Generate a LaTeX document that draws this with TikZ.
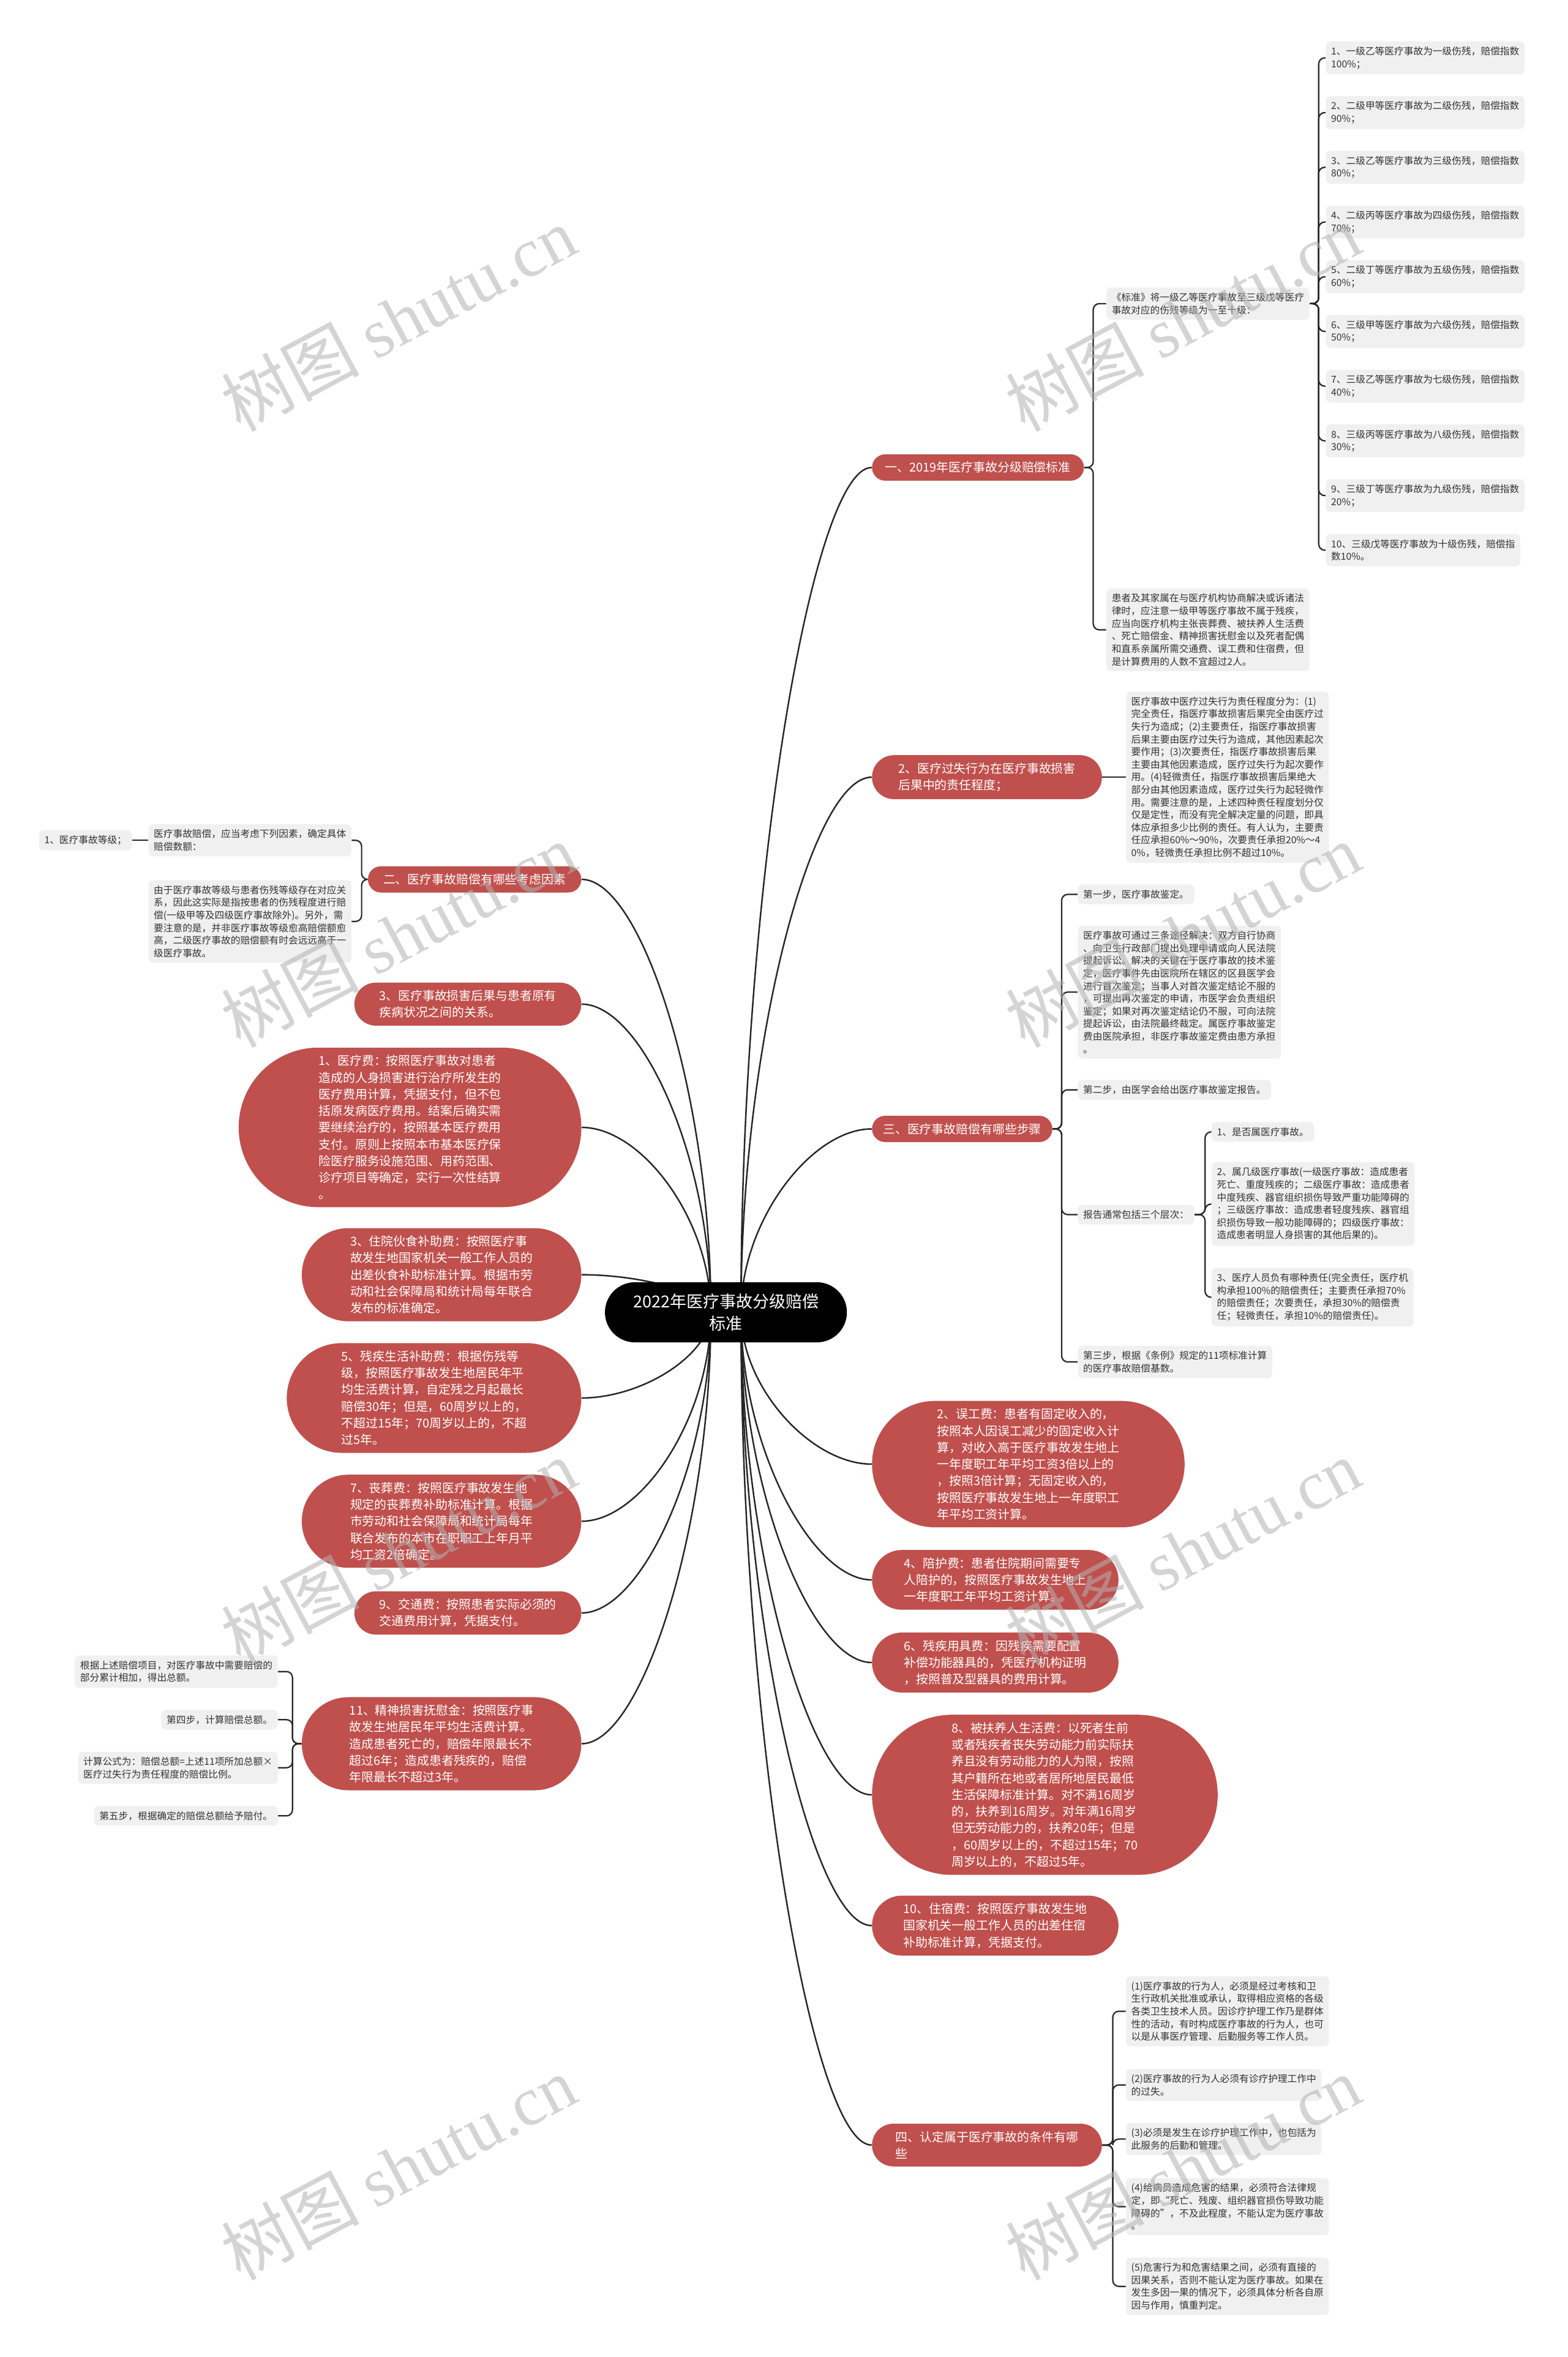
\documentclass[tikz,border=0pt]{standalone}
\usepackage{fontspec}
\setmainfont{Noto Sans CJK SC}
\newfontfamily\wmlatin{Liberation Serif}
\usetikzlibrary{positioning,calc,backgrounds,shapes.misc}
\definecolor{topicred}{RGB}{192,80,77}
\definecolor{leafgray}{RGB}{240,240,240}
\definecolor{leaftext}{RGB}{51,51,51}

\begin{document}
\begin{tikzpicture}[x=1pt, y=-1pt,
  title/.style={rounded rectangle, fill=black, text=white, align=center, font=\fontsize{11}{14.5}\selectfont, inner xsep=3pt, inner ysep=7pt, minimum width=167pt, minimum height=40pt},
  topic/.style={rounded rectangle, fill=topicred, text=white, align=left, font=\fontsize{8.1}{11.1}\selectfont, inner xsep=2pt, inner ysep=5pt, minimum width=#1},
  topic/.default=150pt,
  leaf/.style={fill=leafgray, text=leaftext, rounded corners=3pt, align=left, font=\fontsize{6.4}{8.4}\selectfont, inner sep=3.5pt},
  link/.style={draw=black!85, line width=1pt},
  brace/.style={draw=black!85, line width=0.9pt, rounded corners=4pt},
  wmark/.style={text=black!30, opacity=0.55, rotate=28, font=\fontsize{46}{46}\selectfont}]
  \useasboundingbox (0,0) rectangle (1043,1568);

  % centre
  \node[title] (root) at (483,873) {2022年医疗事故分级赔偿\\标准};
  \coordinate (hubR) at ($(root.center)+(10,0)$);
  \coordinate (hubL) at ($(root.center)+(-10,0)$);

  % right topics
  \node[topic=145pt, anchor=west] (std) at (580,311) {一、2019年医疗事故分级赔偿标准};
  \node[topic=157pt, anchor=west] (resp) at (580,517) {2、医疗过失行为在医疗事故损害\\后果中的责任程度；};
  \node[topic=124pt, anchor=west] (steps) at (580,751) {三、医疗事故赔偿有哪些步骤};
  \node[topic=212pt, anchor=west] (lost) at (580,974) {2、误工费：患者有固定收入的，\\
    按照本人因误工减少的固定收入计\\
    算，对收入高于医疗事故发生地上\\
    一年度职工年平均工资3倍以上的\\
    ，按照3倍计算；无固定收入的，\\
    按照医疗事故发生地上一年度职工\\
    年平均工资计算。};
  \node[topic=168pt, anchor=west] (care) at (580,1051) {4、陪护费：患者住院期间需要专\\
    人陪护的，按照医疗事故发生地上\\
    一年度职工年平均工资计算。};
  \node[topic=168pt, anchor=west] (aids) at (580,1106) {6、残疾用具费：因残疾需要配置\\
    补偿功能器具的，凭医疗机构证明\\
    ，按照普及型器具的费用计算。};
  \node[topic=234pt, anchor=west] (dep) at (580,1194) {8、被扶养人生活费：以死者生前\\
    或者残疾者丧失劳动能力前实际扶\\
    养且没有劳动能力的人为限，按照\\
    其户籍所在地或者居所地居民最低\\
    生活保障标准计算。对不满16周岁\\
    的，扶养到16周岁。对年满16周岁\\
    但无劳动能力的，扶养20年；但是\\
    ，60周岁以上的，不超过15年；70\\
    周岁以上的，不超过5年。};
  \node[topic=168pt, anchor=west] (lodge) at (580,1281) {10、住宿费：按照医疗事故发生地\\
    国家机关一般工作人员的出差住宿\\
    补助标准计算，凭据支付。};
  \node[topic=157pt, anchor=west] (cond) at (580,1427) {四、认定属于医疗事故的条件有哪\\些};

  % left topics
  \node[topic=146pt, anchor=east] (factor) at (387,585) {二、医疗事故赔偿有哪些考虑因素};
  \node[topic=155pt, anchor=east] (prior) at (387,668) {3、医疗事故损害后果与患者原有\\疾病状况之间的关系。};
  \node[topic=232pt, anchor=east] (med) at (387,750) {1、医疗费：按照医疗事故对患者\\
    造成的人身损害进行治疗所发生的\\
    医疗费用计算，凭据支付，但不包\\
    括原发病医疗费用。结案后确实需\\
    要继续治疗的，按照基本医疗费用\\
    支付。原则上按照本市基本医疗保\\
    险医疗服务设施范围、用药范围、\\
    诊疗项目等确定，实行一次性结算\\
    。};
  \node[topic=190pt, anchor=east] (food) at (387,848) {3、住院伙食补助费：按照医疗事\\
    故发生地国家机关一般工作人员的\\
    出差伙食补助标准计算。根据市劳\\
    动和社会保障局和统计局每年联合\\
    发布的标准确定。};
  \node[topic=200pt, anchor=east] (dis) at (387,930) {5、残疾生活补助费：根据伤残等\\
    级，按照医疗事故发生地居民年平\\
    均生活费计算，自定残之月起最长\\
    赔偿30年；但是，60周岁以上的，\\
    不超过15年；70周岁以上的，不超\\
    过5年。};
  \node[topic=190pt, anchor=east] (fun) at (387,1012) {7、丧葬费：按照医疗事故发生地\\
    规定的丧葬费补助标准计算。根据\\
    市劳动和社会保障局和统计局每年\\
    联合发布的本市在职职工上年月平\\
    均工资2倍确定。};
  \node[topic=155pt, anchor=east] (trav) at (387,1073) {9、交通费：按照患者实际必须的\\交通费用计算，凭据支付。};
  \node[topic=190pt, anchor=east] (ment) at (387,1160) {11、精神损害抚慰金：按照医疗事\\
    故发生地居民年平均生活费计算。\\
    造成患者死亡的，赔偿年限最长不\\
    超过6年；造成患者残疾的，赔偿\\
    年限最长不超过3年。};

  % leaves of the 2019 standard
  \node[leaf, anchor=west] (stdA) at (736,202) {《标准》将一级乙等医疗事故至三级戊等医疗\\事故对应的伤残等级为一至十级：};
  \node[leaf, anchor=west] (stdB) at (736,419) {患者及其家属在与医疗机构协商解决或诉诸法\\
    律时，应注意一级甲等医疗事故不属于残疾，\\
    应当向医疗机构主张丧葬费、被扶养人生活费\\
    、死亡赔偿金、精神损害抚慰金以及死者配偶\\
    和直系亲属所需交通费、误工费和住宿费，但\\
    是计算费用的人数不宜超过2人。};
  \foreach \i/\g/\h/\p in {1/一级乙等/一/100, 2/二级甲等/二/90, 3/二级乙等/三/80,
      4/二级丙等/四/70, 5/二级丁等/五/60, 6/三级甲等/六/50, 7/三级乙等/七/40,
      8/三级丙等/八/30, 9/三级丁等/九/20}
    \node[leaf, anchor=west] (g\i) at (882,{38.5+36.4*(\i-1)}) {{\i}、{\g}医疗事故为{\h}级伤残，赔偿指数\\{\p}\%；};
  \node[leaf, anchor=west] (g10) at (882,366) {10、三级戊等医疗事故为十级伤残，赔偿指\\数10\%。};

  % leaf of responsibility
  \node[leaf, anchor=west] (respA) at (749,517) {医疗事故中医疗过失行为责任程度分为：(1)\\
    完全责任，指医疗事故损害后果完全由医疗过\\
    失行为造成；(2)主要责任，指医疗事故损害\\
    后果主要由医疗过失行为造成，其他因素起次\\
    要作用；(3)次要责任，指医疗事故损害后果\\
    主要由其他因素造成，医疗过失行为起次要作\\
    用。(4)轻微责任，指医疗事故损害后果绝大\\
    部分由其他因素造成，医疗过失行为起轻微作\\
    用。需要注意的是，上述四种责任程度划分仅\\
    仅是定性，而没有完全解决定量的问题，即具\\
    体应承担多少比例的责任。有人认为，主要责\\
    任应承担60\%～90\%，次要责任承担20\%～4\\
    0\%，轻微责任承担比例不超过10\%。};

  % leaves of the steps
  \node[leaf, anchor=west] (st1) at (717,595) {第一步，医疗事故鉴定。};
  \node[leaf, anchor=west] (st2) at (717,660) {医疗事故可通过三条途径解决：双方自行协商\\
    、向卫生行政部门提出处理申请或向人民法院\\
    提起诉讼。解决的关键在于医疗事故的技术鉴\\
    定，医疗事件先由医院所在辖区的区县医学会\\
    进行首次鉴定；当事人对首次鉴定结论不服的\\
    ，可提出再次鉴定的申请，市医学会负责组织\\
    鉴定；如果对再次鉴定结论仍不服，可向法院\\
    提起诉讼，由法院最终裁定。属医疗事故鉴定\\
    费由医院承担，非医疗事故鉴定费由患方承担\\
    。};
  \node[leaf, anchor=west] (st3) at (717,725) {第二步，由医学会给出医疗事故鉴定报告。};
  \node[leaf, anchor=west] (st4) at (717,808) {报告通常包括三个层次：};
  \node[leaf, anchor=west] (st5) at (717,906) {第三步，根据《条例》规定的11项标准计算\\的医疗事故赔偿基数。};
  \node[leaf, anchor=west] (r1) at (806,753) {1、是否属医疗事故。};
  \node[leaf, anchor=west] (r2) at (806,801) {2、属几级医疗事故(一级医疗事故：造成患者\\
    死亡、重度残疾的；二级医疗事故：造成患者\\
    中度残疾、器官组织损伤导致严重功能障碍的\\
    ；三级医疗事故：造成患者轻度残疾、器官组\\
    织损伤导致一般功能障碍的；四级医疗事故：\\
    造成患者明显人身损害的其他后果的)。};
  \node[leaf, anchor=west] (r3) at (806,863) {3、医疗人员负有哪种责任(完全责任，医疗机\\
    构承担100\%的赔偿责任；主要责任承担70\%\\
    的赔偿责任；次要责任，承担30\%的赔偿责\\
    任；轻微责任，承担10\%的赔偿责任)。};

  % leaves of the conditions
  \node[leaf, anchor=west] (c1) at (749,1338) {(1)医疗事故的行为人，必须是经过考核和卫\\
    生行政机关批准或承认，取得相应资格的各级\\
    各类卫生技术人员。因诊疗护理工作乃是群体\\
    性的活动，有时构成医疗事故的行为人，也可\\
    以是从事医疗管理、后勤服务等工作人员。};
  \node[leaf, anchor=west] (c2) at (749,1387) {(2)医疗事故的行为人必须有诊疗护理工作中\\的过失。};
  \node[leaf, anchor=west] (c3) at (749,1423) {(3)必须是发生在诊疗护理工作中，也包括为\\此服务的后勤和管理。};
  \node[leaf, anchor=west] (c4) at (749,1468) {(4)给病员造成危害的结果，必须符合法律规\\
    定，即“死亡、残废、组织器官损伤导致功能\\
    障碍的”，不及此程度，不能认定为医疗事故\\
    。};
  \node[leaf, anchor=west] (c5) at (749,1521) {(5)危害行为和危害结果之间，必须有直接的\\
    因果关系，否则不能认定为医疗事故。如果在\\
    发生多因一果的情况下，必须具体分析各自原\\
    因与作用，慎重判定。};

  % left leaves
  \node[leaf, anchor=east] (fa1) at (234,559) {医疗事故赔偿，应当考虑下列因素，确定具体\\赔偿数额：};
  \node[leaf, anchor=east] (fa0) at (88,559) {1、医疗事故等级；};
  \node[leaf, anchor=east] (fa2) at (234,613) {由于医疗事故等级与患者伤残等级存在对应关\\
    系，因此这实际是指按患者的伤残程度进行赔\\
    偿(一级甲等及四级医疗事故除外)。另外，需\\
    要注意的是，并非医疗事故等级愈高赔偿额愈\\
    高，二级医疗事故的赔偿额有时会远远高于一\\
    级医疗事故。};
  \node[leaf, anchor=east] (m1) at (185,1112) {根据上述赔偿项目，对医疗事故中需要赔偿的\\部分累计相加，得出总额。};
  \node[leaf, anchor=east] (m2) at (185,1144) {第四步，计算赔偿总额。};
  \node[leaf, anchor=east] (m3) at (185,1176) {计算公式为：赔偿总额=上述11项所加总额×\\医疗过失行为责任程度的赔偿比例。};
  \node[leaf, anchor=east] (m4) at (185,1208) {第五步，根据确定的赔偿总额给予赔付。};

  % braces to leaves
  \foreach \i in {1,...,10}
    \draw[brace] (stdA.east) -- ++(6,0) |- (g\i.west);
  \foreach \n in {stdA,stdB}
    \draw[brace] (std.east) -- ++(6,0) |- (\n.west);
  \draw[brace] (resp.east) -- (respA.west);
  \foreach \n in {st1,st2,st3,st4,st5}
    \draw[brace] (steps.east) -- ++(6,0) |- (\n.west);
  \foreach \n in {r1,r2,r3}
    \draw[brace] (st4.east) -- ++(7,0) |- (\n.west);
  \foreach \n in {c1,c2,c3,c4,c5}
    \draw[brace] (cond.east) -- ++(7,0) |- (\n.west);
  \foreach \n in {fa1,fa2}
    \draw[brace] (factor.west) -- ++(-4,0) |- (\n.east);
  \draw[brace] (fa1.west) -- (fa0.east);
  \foreach \n in {m1,m2,m3,m4}
    \draw[brace] (ment.west) -- ++(-6,0) |- (\n.east);

  % links from the centre
  \begin{scope}[on background layer]
    \fill[white] (0,0) rectangle (1043,1568);
    \foreach \n in {std,resp,steps,lost,care,aids,dep,lodge,cond}
      \draw[link] (hubR) .. controls ($(hubR)!0.5!(hubR|-\n.west)$) and ($(\n.west)+(-40,0)$) .. (\n.west);
    \foreach \n in {factor,prior,med,food,dis,fun,trav,ment}
      \draw[link] (hubL) .. controls ($(hubL)!0.5!(hubL|-\n.east)$) and ($(\n.east)+(40,0)$) .. (\n.east);
  \end{scope}

  % watermarks
  \foreach \x in {265,787}
    \foreach \y in {212,622,1032,1442}
      \node[wmark] (wm\x\y) at (\x,\y) {树图 {\wmlatin shutu.cn}};
\end{tikzpicture}
\end{document}
